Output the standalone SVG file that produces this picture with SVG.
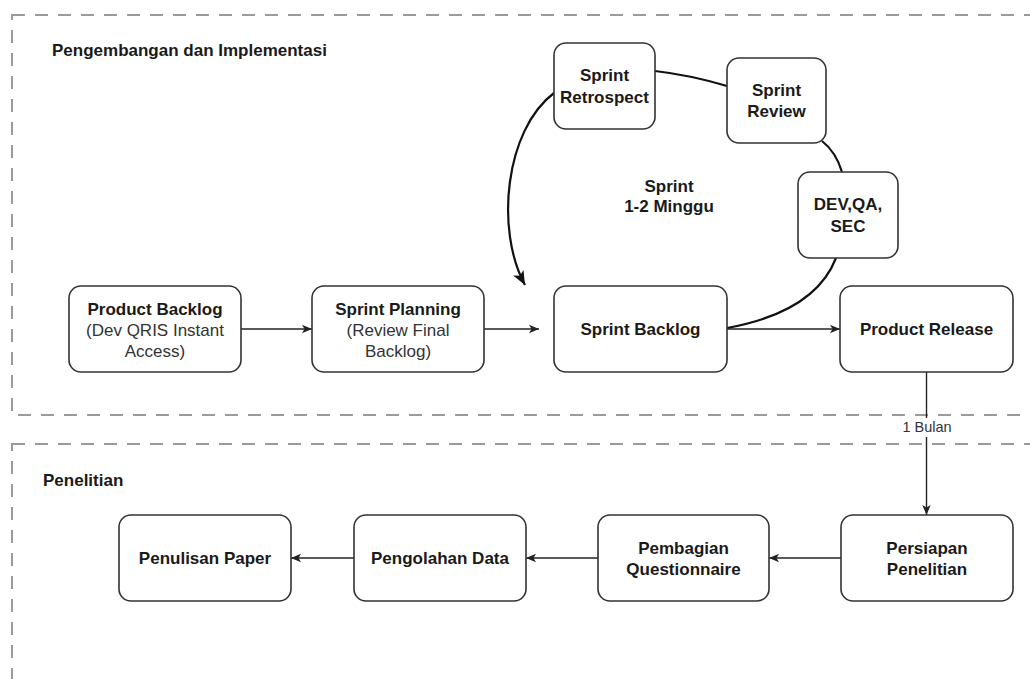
<svg xmlns="http://www.w3.org/2000/svg" width="1030" height="679" viewBox="0 0 1030 679">
<style>
  .lane { fill: none; stroke: #9a9a9a; stroke-width: 2; stroke-dasharray: 13 10; }
  .node { fill: #ffffff; stroke: #333333; stroke-width: 1.6; }
  .t { font-family: "Liberation Sans", Arial, sans-serif; font-size: 17px; fill: #1a1a1a; text-anchor: middle; }
  .b { font-weight: bold; }
  .sub { fill: #333333; }
  .lbl { font-family: "Liberation Sans", Arial, sans-serif; font-weight: bold; font-size: 17px; fill: #1a1a1a; }
  .edge { fill: none; stroke: #222222; stroke-width: 1.4; }
  .curve { fill: none; stroke: #111111; stroke-width: 2.2; }
  .elbl { font-family: "Liberation Sans", Arial, sans-serif; font-size: 14.5px; fill: #333333; text-anchor: middle; }
</style>
<defs>
  <marker id="arr" viewBox="0 0 10 10" refX="10" refY="5" markerWidth="10" markerHeight="10" markerUnits="userSpaceOnUse" orient="auto">
    <path d="M0,0.8 L10,5 L0,9.2 L2.5,5 Z" fill="#222222"/>
  </marker>
  <marker id="arrBig" viewBox="0 0 10 10" refX="10" refY="5" markerWidth="14" markerHeight="14" markerUnits="userSpaceOnUse" orient="auto">
    <path d="M0,0.8 L10,5 L0,9.2 L2.5,5 Z" fill="#111111"/>
  </marker>
</defs>
<rect width="1030" height="679" fill="#ffffff"/>

<g id="lane-pengembangan">
  <rect class="lane" x="12" y="15" width="1040" height="400"/>
  <text class="lbl" x="52" y="56">Pengembangan dan Implementasi</text>
</g>
<g id="lane-penelitian">
  <rect class="lane" x="12" y="444" width="1040" height="240"/>
  <text class="lbl" x="43" y="486">Penelitian</text>
</g>

<g id="connectors">
  <line class="edge" x1="241" y1="329" x2="312" y2="329" marker-end="url(#arr)"/>
  <line class="edge" x1="484" y1="329" x2="539" y2="329" marker-end="url(#arr)"/>
  <line class="edge" x1="727" y1="329" x2="840" y2="329" marker-end="url(#arr)"/>
  <line class="edge" x1="926.5" y1="372" x2="926.5" y2="515" marker-end="url(#arr)"/>
  <line class="edge" x1="841" y1="558" x2="769" y2="558" marker-end="url(#arr)"/>
  <line class="edge" x1="598" y1="558" x2="526" y2="558" marker-end="url(#arr)"/>
  <line class="edge" x1="354" y1="558" x2="291" y2="558" marker-end="url(#arr)"/>
  <path class="curve" d="M727,328 Q815,312 836,258"/>
  <path class="curve" d="M842,172 Q836,152 822,141"/>
  <path class="curve" d="M727,86 Q690,75 655,71"/>
  <path class="curve" d="M554,93 C505,130 495,230 525,285" marker-end="url(#arrBig)"/>
  <g id="label-1-bulan">
    <rect x="900" y="418" width="54" height="19" fill="#ffffff"/>
    <text class="elbl" x="927" y="432">1 Bulan</text>
  </g>
</g>

<g id="product-backlog">
  <rect class="node" x="69" y="286" width="172" height="86" rx="12"/>
  <text class="t b" x="155" y="315">Product Backlog</text>
  <text class="t sub" x="155" y="336">(Dev QRIS Instant</text>
  <text class="t sub" x="155" y="357">Access)</text>
</g>
<g id="sprint-planning">
  <rect class="node" x="312" y="286" width="172" height="86" rx="12"/>
  <text class="t b" x="398" y="315">Sprint Planning</text>
  <text class="t sub" x="398" y="336">(Review Final</text>
  <text class="t sub" x="398" y="357">Backlog)</text>
</g>
<g id="sprint-backlog">
  <rect class="node" x="554" y="286" width="173" height="86" rx="12"/>
  <text class="t b" x="640.5" y="335">Sprint Backlog</text>
</g>
<g id="product-release">
  <rect class="node" x="840" y="286" width="173" height="86" rx="12"/>
  <text class="t b" x="926.5" y="335">Product Release</text>
</g>
<g id="sprint-retrospect">
  <rect class="node" x="554" y="43" width="101" height="86" rx="12"/>
  <text class="t b" x="604.5" y="81">Sprint</text>
  <text class="t b" x="604.5" y="103">Retrospect</text>
</g>
<g id="sprint-review">
  <rect class="node" x="727" y="58" width="99" height="85" rx="12"/>
  <text class="t b" x="776.5" y="96">Sprint</text>
  <text class="t b" x="776.5" y="117">Review</text>
</g>
<g id="dev-qa-sec">
  <rect class="node" x="798" y="172" width="100" height="86" rx="12"/>
  <text class="t b" x="848" y="210">DEV,QA,</text>
  <text class="t b" x="848" y="232">SEC</text>
</g>
<g id="sprint-label">
  <text class="t b" x="669" y="192">Sprint</text>
  <text class="t b" x="669" y="212">1-2 Minggu</text>
</g>
<g id="persiapan-penelitian">
  <rect class="node" x="841" y="515" width="172" height="86" rx="12"/>
  <text class="t b" x="927" y="554">Persiapan</text>
  <text class="t b" x="927" y="575">Penelitian</text>
</g>
<g id="pembagian-questionnaire">
  <rect class="node" x="598" y="515" width="171" height="86" rx="12"/>
  <text class="t b" x="683.5" y="554">Pembagian</text>
  <text class="t b" x="683.5" y="575">Questionnaire</text>
</g>
<g id="pengolahan-data">
  <rect class="node" x="354" y="515" width="172" height="86" rx="12"/>
  <text class="t b" x="440" y="564">Pengolahan Data</text>
</g>
<g id="penulisan-paper">
  <rect class="node" x="119" y="515" width="172" height="86" rx="12"/>
  <text class="t b" x="205" y="564">Penulisan Paper</text>
</g>
</svg>
